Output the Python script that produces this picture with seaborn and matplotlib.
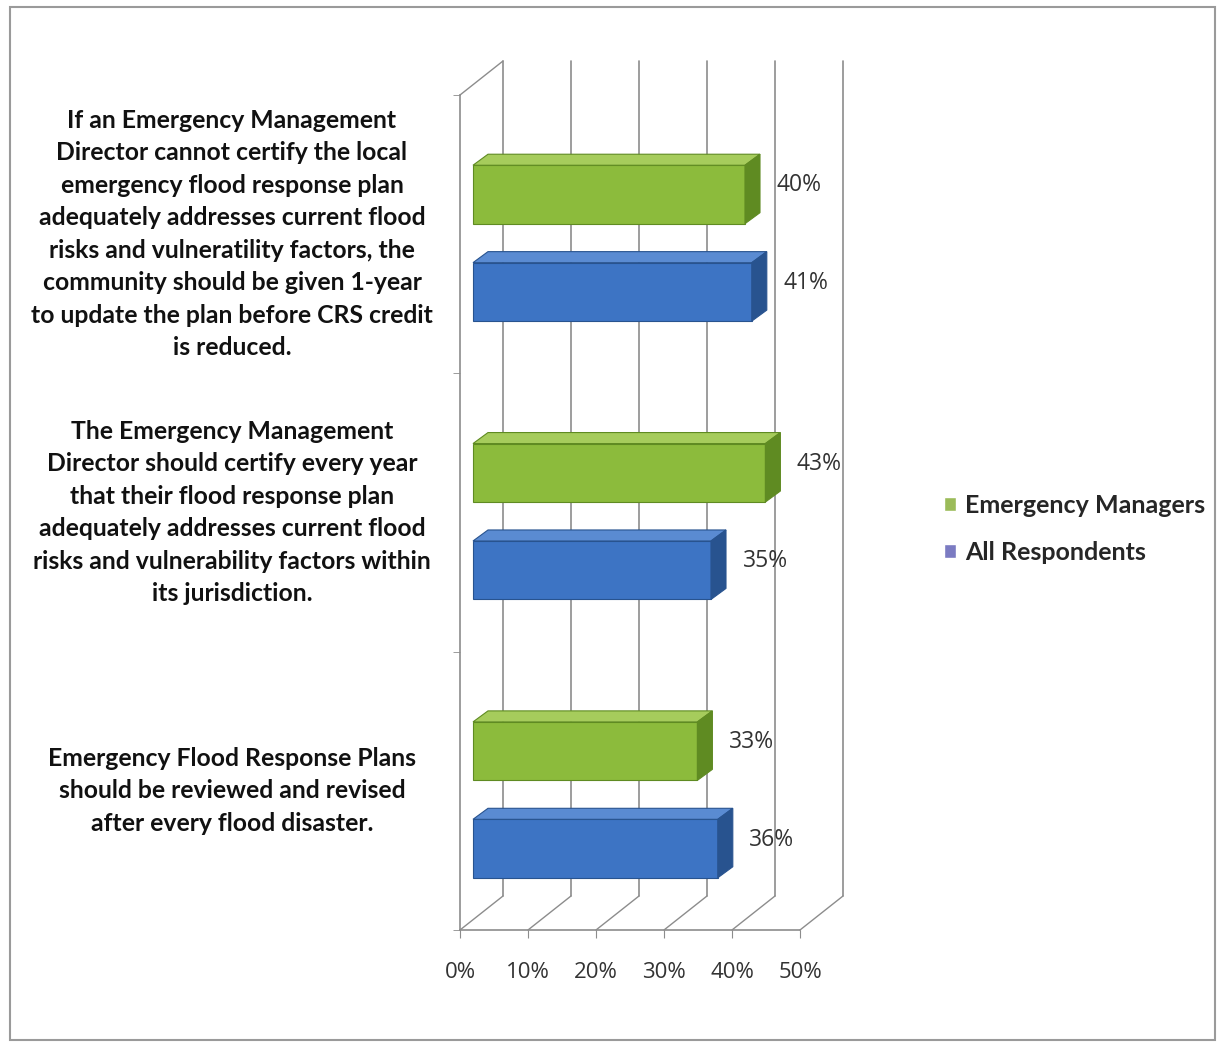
import numpy as np
import pandas as pd
import seaborn as sns
import matplotlib.pyplot as plt
from matplotlib.patches import Patch, Polygon, Rectangle
from matplotlib.transforms import ScaledTranslation

# data
statements = [
    "If an Emergency Management\nDirector cannot certify the local\nemergency flood response plan\nadequately addresses current flood\nrisks and vulneratility factors, the\ncommunity should be given 1-year\nto update the plan before CRS credit\nis reduced.",
    "The Emergency Management\nDirector should certify every year\nthat their flood response plan\nadequately addresses current flood\nrisks and vulnerability factors within\nits jurisdiction.",
    "Emergency Flood Response Plans\nshould be reviewed and revised\nafter every flood disaster.",
]
groups = ["Emergency Managers", "All Respondents"]
emergency_managers = [40, 43, 33]
all_respondents = [41, 35, 36]
x_ticks = [0, 10, 20, 30, 40, 50]

df = pd.DataFrame({
    "statement": statements * 2,
    "group": [groups[0]] * 3 + [groups[1]] * 3,
    "pct": emergency_managers + all_respondents,
})

front = {groups[0]: "#8cbb3c", groups[1]: "#3d74c4"}
side = {groups[0]: "#5f8b22", groups[1]: "#28538f"}
top = {groups[0]: "#a6cc5c", groups[1]: "#5a8bd2"}
legend_cols = {groups[0]: "#9bbb59", groups[1]: "#7b7bc2"}

sns.set_style("white")
plt.rcParams['font.family'] = ['Lato', 'DejaVu Sans']

fig = plt.figure(figsize=(12.21, 10.45), dpi=100)
ax = fig.add_axes([460 / 1221, 1 - 930 / 1045, 340 / 1221, 835 / 1045])

sns.barplot(data=df, x="pct", y="statement", hue="group", hue_order=groups,
            palette=front, saturation=1, orient="h", width=0.7, gap=0.4, ax=ax,
            legend=False, errorbar=None, zorder=3)

ax.set_xlim(0, 50)
ax.set_xlabel("")
ax.set_ylabel("")

# 3D-ish look
px_x = 50 / 340          # data units per pixel on x
shift = ScaledTranslation(0.13, -0.09, fig.dpi_scale_trans)
trans = ax.transData + shift
bdx = 15 * px_x
bdy = 11 / 278
for cont, g in zip(ax.containers, groups):
    for p in cont:
        x0, y0 = p.get_x(), p.get_y()
        w, h = p.get_width(), p.get_height()
        x1 = x0 + w
        ytop, ybot = y0, y0 + h
        p.set_transform(trans)
        p.set_edgecolor(side[g])
        p.set_linewidth(0.8)
        p.set_zorder(3)
        ax.add_patch(Polygon([(x0, ytop), (x1, ytop), (x1 + bdx, ytop - bdy), (x0 + bdx, ytop - bdy)],
                             closed=True, facecolor=top[g], edgecolor=side[g], lw=0.8,
                             transform=trans, zorder=3))
        ax.add_patch(Polygon([(x1, ytop), (x1 + bdx, ytop - bdy), (x1 + bdx, ybot - bdy), (x1, ybot)],
                             closed=True, facecolor=side[g], edgecolor=side[g], lw=0.8,
                             transform=trans, zorder=3))
    ax.bar_label(cont, labels=[f"{int(v)}%" for v in cont.datavalues], padding=32,
                 fontsize=16.5, color="#333333", family="Open Sans")

# back wall gridlines and floor
gdx = 43 * px_x
gdy = 34 / 835
xt = ax.get_xaxis_transform()
gc = "#8c8c8c"
for t in x_ticks:
    ax.plot([t + gdx, t + gdx], [gdy, 1 + gdy], color=gc, lw=1.2, transform=xt,
            clip_on=False, zorder=0.5)
    ax.plot([t, t + gdx], [0, gdy], color=gc, lw=1.0, transform=xt, clip_on=False, zorder=0.5)
ax.plot([0, gdx], [1, 1 + gdy], color=gc, lw=1.0, transform=xt, clip_on=False, zorder=0.5)

for s in ["top", "right"]:
    ax.spines[s].set_visible(False)
for s in ["left", "bottom"]:
    ax.spines[s].set_color(gc)
    ax.spines[s].set_linewidth(1.2)

ax.set_xticks(x_ticks)
ax.set_xticklabels([f"{t}%" for t in x_ticks], fontsize=16, color="#333333", family="Open Sans")
ax.tick_params(axis="x", length=6, color=gc, pad=17, direction="out", bottom=True)
ax.set_yticks([-0.5, 0.5, 1.5, 2.5], minor=True)
ax.tick_params(axis="y", which="minor", length=5, color=gc, left=True)
ax.tick_params(axis="y", which="major", length=0)
ax.set_yticklabels([])

# category labels, centred left of the chart
for i, s in enumerate(statements):
    ax.text((232 - 460) / 340, i, s, transform=ax.get_yaxis_transform(), ha="center",
            va="center", multialignment="center", fontsize=17.8, fontweight="bold",
            linespacing=1.5, color="#111111")

handles = [Patch(facecolor=legend_cols[g], label=g) for g in groups]
fig.legend(handles=handles, loc="center left", bbox_to_anchor=(921 / 1221, 1 - 529 / 1045),
           frameon=False, prop={"weight": "bold", "size": 18}, handlelength=0.5,
           handleheight=0.5, handletextpad=0.35, labelspacing=0.95)

fig.patches.append(Rectangle((10 / 1221, 5 / 1045), 1205 / 1221, 1033 / 1045, fill=False,
                             edgecolor="#9a9a9a", lw=1.5, transform=fig.transFigure))

fig.savefig("out.png", dpi=100)
